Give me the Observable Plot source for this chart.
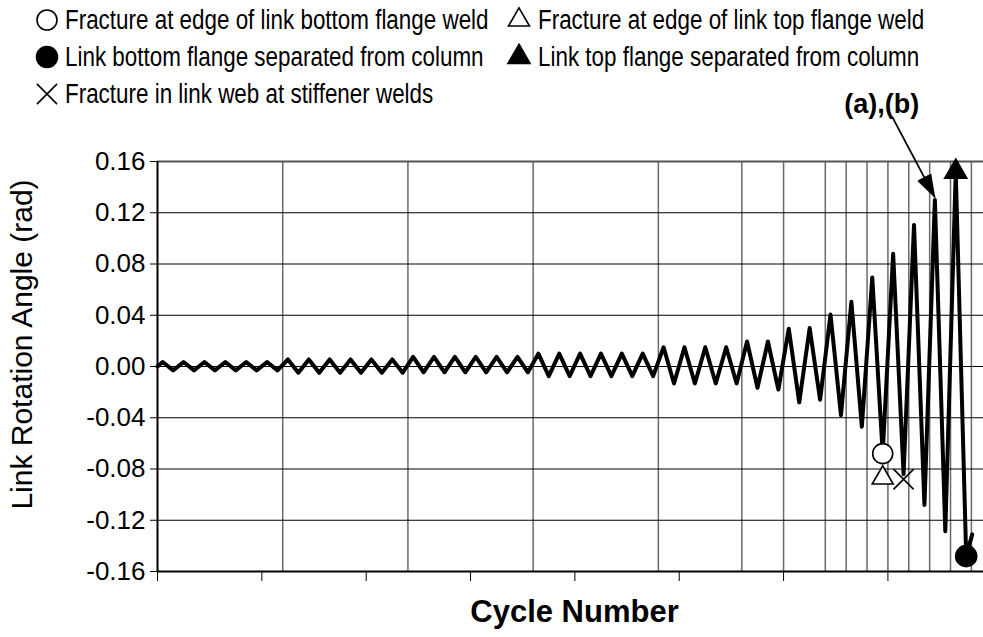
<!DOCTYPE html>
<html>
<head>
<meta charset="utf-8">
<script src="https://cdn.jsdelivr.net/npm/d3@7"></script>
<script src="https://cdn.jsdelivr.net/npm/@observablehq/plot@0.6"></script>
<style>
  body { margin: 0; background: #fff; }
  #wrap { position: relative; width: 983px; height: 637px; overflow: hidden; background: #fff; }
  #chart { position: absolute; left: 0; top: 0; }
  .lg-sym { position: absolute; overflow: visible; }
  .lg-txt { position: absolute; font-family: "Liberation Sans", Arial, sans-serif; font-size: 27px; line-height: 30px;
            white-space: nowrap; transform: scaleX(0.83); transform-origin: 0 50%; color: #000; }
</style>
</head>
<body>
<div id="wrap">
  <div id="chart"></div>
</div>
<script>
// ---------------- data ----------------
// peak (positive) and trough (negative) link rotation of each cycle, cycles 0..38
const cyclePeaks = [
  0.0035, 0.0035, 0.0035, 0.0035, 0.0035, 0.0035,
  0.0055, 0.0055, 0.0055, 0.0055, 0.0055, 0.0055,
  0.0075, 0.0075, 0.0075, 0.0075, 0.0075, 0.0075,
  0.0100, 0.0100, 0.0100, 0.0100, 0.0100, 0.0100,
  0.0150, 0.0150, 0.0150, 0.0150,
  0.0195, 0.0195,
  0.0295, 0.0300,
  0.0405, 0.0505, 0.0695, 0.0880, 0.1105, 0.1300, 0.1520
];
const cycleTroughs = [
  -0.0030, -0.0030, -0.0030, -0.0030, -0.0030, -0.0030,
  -0.0048, -0.0048, -0.0048, -0.0048, -0.0048, -0.0048,
  -0.0045, -0.0045, -0.0045, -0.0045, -0.0045, -0.0045,
  -0.0075, -0.0075, -0.0075, -0.0075, -0.0075, -0.0075,
  -0.0133, -0.0133, -0.0133, -0.0133,
  -0.0166, -0.0180,
  -0.0280, -0.0260,
  -0.0380, -0.0470, -0.0680, -0.0840, -0.1080, -0.1285, -0.1480
];
const startPoint = [0, 0];
const endPoint = [39.04, -0.131];

// cycle numbers where the amplitude groups change (vertical gridlines)
const groupBoundaries = [6, 12, 18, 24, 28, 30, 32, 33, 34, 35, 36, 37, 38, 39];
const xTicks = [0, 5, 10, 15, 20, 25, 30, 35];
const yTicks = [0.16, 0.12, 0.08, 0.04, 0, -0.04, -0.08, -0.12, -0.16];
const yTickLabels = ["0.16", "0.12", "0.08", "0.04", "0.00", "-0.04", "-0.08", "-0.12", "-0.16"];
const yGridInner = [0.12, 0.08, 0.04, 0, -0.04, -0.08, -0.12];

// damage events
const eventLabels = [
  "Fracture at edge of link bottom flange weld",
  "Fracture at edge of link top flange weld",
  "Link bottom flange separated from column",
  "Link top flange separated from column",
  "Fracture in link web at stiffener welds"
];
const eventSymbols = ["circle", "triangle", "circle", "triangle", "times"];
const eventFilled = [false, false, true, true, false];
const eventCycles = [34.75, 34.75, 38.75, 38.25, 35.75];
const eventValues = [-0.068, -0.087, -0.148, 0.152, -0.088];
const eventRadius = [10, 7.8, 10.5, 8.2, 9.2];

// annotation
const annotationText = "(a),(b)";
const annotationAt = [34.7, 0.2045];
const annotationArrowFrom = [35.2, 0.195];
const annotationTargetCycle = 37; // peak of this cycle

const xTitle = "Cycle Number";
const yTitle = "Link Rotation Angle (rad)";

// ---------------- build tables ----------------
const series = [{cycle: startPoint[0], rot: startPoint[1]}];
cyclePeaks.forEach((p, i) => {
  series.push({cycle: i + 0.25, rot: p});
  series.push({cycle: i + 0.75, rot: cycleTroughs[i]});
});
series.push({cycle: endPoint[0], rot: endPoint[1]});

const events = eventLabels.map((label, i) => ({
  label, symbol: eventSymbols[i], filled: eventFilled[i],
  cycle: eventCycles[i], rot: eventValues[i], r: eventRadius[i]
}));
const fillOf = e => e.filled ? "#000" : (e.symbol === "times" ? "none" : "#fff");

const arrowData = [{
  x1: annotationArrowFrom[0], y1: annotationArrowFrom[1],
  x2: annotationTargetCycle + 0.25, y2: cyclePeaks[annotationTargetCycle] + 0.002
}];

const tickLabelOf = new Map(yTicks.map((t, i) => [t, yTickLabels[i]]));

const chart = Plot.plot({
  width: 983,
  height: 637,
  marginLeft: 157,
  marginRight: 0,
  marginTop: 161,
  marginBottom: 66,
  style: {fontFamily: "'Liberation Sans', Arial, sans-serif", background: "white", overflow: "visible", color: "black"},
  x: {domain: [0, 39.58]},
  y: {domain: [-0.16, 0.16]},
  marks: [
    Plot.ruleX(groupBoundaries, {stroke: "#6a6a6a", strokeWidth: 1.5}),
    Plot.ruleY(yGridInner, {stroke: "#000", strokeWidth: 1}),
    Plot.ruleY([0.16], {stroke: "#555", strokeWidth: 2}),
    Plot.axisY({ticks: yTicks, tickFormat: d => tickLabelOf.get(d), tickSize: 7, tickPadding: 5,
                fontSize: 26, label: null, stroke: "#000"}),
    Plot.axisX({ticks: xTicks, tickFormat: () => "", tickSize: 10, label: null, stroke: "#000"}),
    Plot.ruleY([-0.16], {stroke: "#000", strokeWidth: 2}),
    Plot.ruleX([0], {stroke: "#000", strokeWidth: 2}),
    Plot.line(series, {x: "cycle", y: "rot", stroke: "#000", strokeWidth: 4, strokeLinejoin: "round"}),
    Plot.link(arrowData, {x1: "x1", y1: "y1", x2: "x2", y2: "y2", stroke: "#000", strokeWidth: 1.8, className: "annot-arrow"}),
    Plot.text([annotationText], {x: annotationAt[0], y: annotationAt[1], text: d => d, fontSize: 27, fontWeight: "bold",
                                 fill: "#000", textAnchor: "middle", lineAnchor: "middle"}),
    ...events.map(e => Plot.dot([e], {x: "cycle", y: "rot", symbol: e.symbol, r: e.r,
                                      fill: fillOf(e), stroke: "#000", strokeWidth: 1.6})),
    Plot.text([yTitle], {frameAnchor: "top-left", dx: -135, dy: 183, rotate: -90, fontSize: 30, fill: "#000",
                         textAnchor: "middle", lineAnchor: "middle"}),
    Plot.text([xTitle], {frameAnchor: "bottom", dx: 4, dy: 41, fontSize: 31, fontWeight: "bold", fill: "#000",
                         textAnchor: "middle", lineAnchor: "middle"})
  ]
});
document.getElementById("chart").appendChild(chart);

// filled arrowhead for the annotation
const svgNS = "http://www.w3.org/2000/svg";
const defs = document.createElementNS(svgNS, "defs");
defs.innerHTML = '<marker id="ahead" markerUnits="userSpaceOnUse" markerWidth="24" markerHeight="16" viewBox="0 0 24 16" refX="23" refY="8" orient="auto"><path d="M0,0L24,8L0,16z" fill="#000"/></marker>';
chart.insertBefore(defs, chart.firstChild);
chart.querySelectorAll(".annot-arrow path, path.annot-arrow, g.annot-arrow path").forEach(p => p.setAttribute("marker-end", "url(#ahead)"));

// ---------------- legend (above the plot frame) ----------------
const wrap = document.getElementById("wrap");
const legendSlots = [
  {sx: 47, tx: 65, cy: 20},
  {sx: 519, tx: 538, cy: 20},
  {sx: 47, tx: 65, cy: 57},
  {sx: 519, tx: 538, cy: 57},
  {sx: 47, tx: 65, cy: 94}
];
events.forEach((e, i) => {
  const s = legendSlots[i];
  const svg = document.createElementNS(svgNS, "svg");
  svg.setAttribute("class", "lg-sym");
  svg.setAttribute("width", 26); svg.setAttribute("height", 26);
  svg.style.left = (s.sx - 13) + "px"; svg.style.top = (s.cy - 13) + "px";
  const sym = d3.symbol().type(e.symbol === "circle" ? d3.symbolCircle : e.symbol === "triangle" ? d3.symbolTriangle : d3.symbolTimes)
      .size(Math.PI * e.r * e.r)();
  const path = document.createElementNS(svgNS, "path");
  path.setAttribute("d", sym);
  path.setAttribute("transform", "translate(13,13)");
  path.setAttribute("fill", fillOf(e));
  path.setAttribute("stroke", "#000");
  path.setAttribute("stroke-width", 1.6);
  svg.appendChild(path);
  wrap.appendChild(svg);
  const t = document.createElement("div");
  t.className = "lg-txt";
  t.textContent = e.label;
  t.style.left = s.tx + "px";
  t.style.top = (s.cy - 15) + "px";
  wrap.appendChild(t);
});
</script>
</body>
</html>
